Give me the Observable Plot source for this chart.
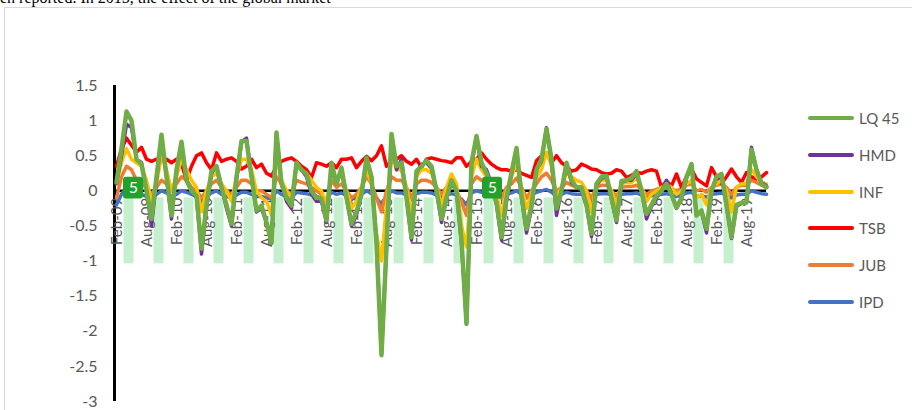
<!DOCTYPE html>
<html><head><meta charset="utf-8">
<script src="https://cdn.jsdelivr.net/npm/d3@7"></script>
<script src="https://cdn.jsdelivr.net/npm/@observablehq/plot@0.6"></script>
<style>
html,body{margin:0;padding:0;background:#fff;}
#wrap{position:relative;width:912px;height:410px;overflow:hidden;font-family:Lato,sans-serif;}
#topText{position:absolute;left:0;top:-10px;font-family:"Liberation Serif",serif;font-size:16px;line-height:16px;white-space:nowrap;color:#000;}
#frame{position:absolute;left:4px;top:7px;width:940px;height:440px;border:1px solid #d9d9d9;box-sizing:border-box;}
#chart{position:absolute;left:0;top:0;}
#legend{position:absolute;left:0;top:0;}
.li{position:absolute;left:808px;height:18px;display:flex;align-items:center;font-family:Lato,sans-serif;font-size:15px;color:#595959;white-space:nowrap;}
.li span.sw{display:inline-block;width:46px;height:4px;border-radius:2px;margin-right:5px;flex:none;}
</style>
</head><body>
<div id="wrap">
  <div id="topText"></div>
  <div id="frame"></div>
  <div id="chart"></div>
  <div id="legend"></div>
</div>
<script>
const headerText = "en reported. In 2015, the effect of the global market";
const seriesNames = ["LQ 45", "HMD", "INF", "TSB", "JUB", "IPD"];
const seriesColors = ["#70AD47", "#7030A0", "#FFC000", "#FF0000", "#ED7D31", "#4472C4"];
const tickLabels = ["Feb-09","Aug-09","Feb-10","Aug-10","Feb-11","Aug-11","Feb-12","Aug-12","Feb-13","Aug-13","Feb-14","Aug-14","Feb-15","Aug-15","Feb-16","Aug-16","Feb-17","Aug-17","Feb-18","Aug-18","Feb-19","Aug-19"];
const yTicks = [1.5, 1, 0.5, 0, -0.5, -1, -1.5, -2, -2.5, -3];

const LQ45 = [
 0.12, 0.6, 1.13, 1.0, 0.45, 0.38, 0.0, -0.4, 0.2, 0.8,
 0.2, -0.35, 0.3, 0.7, 0.15, 0.0, -0.07, -0.82, -0.2, 0.28,
 0.35, 0.05, -0.2, -0.47, 0.2, 0.71, 0.71, 0.2, -0.28, -0.21,
 -0.45, -0.74, 0.83, 0.1, -0.1, -0.21, 0.4, 0.3, 0.24, 0.0,
 -0.1, -0.11, -0.42, 0.4, 0.1, 0.33, -0.1, -0.47, -0.3, -0.05,
 0.47, 0.2, -0.75, -2.34, -0.8, 0.81, 0.35, 0.4, -0.1, -0.66,
 0.28, 0.35, 0.43, 0.35, 0.0, -0.4, -0.1, 0.15, 0.0, -0.7,
 -1.89, 0.4, 0.78, 0.4, 0.25, 0.05, -0.17, -0.66, -0.1, 0.26,
 0.61, -0.07, -0.54, -0.2, 0.3, 0.45, 0.88, 0.45, -0.25, 0.0,
 0.4, 0.15, 0.05, 0.05, -0.2, -0.61, 0.1, 0.2, 0.21, -0.1,
 -0.42, 0.14, 0.15, 0.18, 0.28, 0.0, -0.33, -0.2, -0.07, 0.0,
 0.1, -0.05, -0.24, -0.1, 0.2, 0.38, -0.35, -0.28, -0.54, 0.0,
 0.2, 0.24, -0.2, -0.66, -0.2, -0.17, -0.17, 0.59, 0.3, 0.1,
 0.05];
const HMD = [
 0.1, 0.5, 0.95, 0.9, 0.45, 0.4, 0.0, -0.5, 0.15, 0.75,
 0.2, -0.4, 0.3, 0.65, 0.15, 0.0, -0.1, -0.9, -0.25, 0.25,
 0.35, 0.05, -0.25, -0.5, 0.15, 0.7, 0.75, 0.2, -0.3, -0.25,
 -0.45, -0.75, 0.8, 0.1, -0.15, -0.25, 0.4, 0.3, 0.2, -0.05,
 -0.15, -0.15, -0.45, 0.35, 0.1, 0.3, -0.1, -0.5, -0.35, -0.05,
 0.45, 0.2, -0.75, -2.3, -0.8, 0.75, 0.3, 0.45, -0.1, -0.7,
 0.25, 0.38, 0.4, 0.32, 0.0, -0.45, -0.1, 0.12, 0.0, -0.75,
 -1.9, 0.38, 0.75, 0.35, 0.3, 0.1, -0.2, -0.7, -0.15, 0.25,
 0.58, -0.1, -0.6, -0.25, 0.3, 0.42, 0.9, 0.42, -0.35, 0.0,
 0.38, 0.12, 0.05, 0.0, -0.22, -0.65, 0.08, 0.18, 0.2, -0.12,
 -0.45, 0.12, 0.15, 0.15, 0.25, 0.0, -0.4, -0.22, -0.1, 0.0,
 0.15, -0.05, -0.25, -0.12, 0.18, 0.38, -0.35, -0.3, -0.6, 0.0,
 0.18, 0.22, -0.22, -0.68, -0.22, -0.18, -0.15, 0.62, 0.3, 0.12,
 0.07];
const INF = [
 0.1, 0.4, 0.6, 0.45, 0.4, 0.35, 0.15, -0.15, 0.1, 0.5,
 0.3, 0.0, 0.2, 0.45, 0.3, 0.15, 0.05, -0.3, 0.0, 0.2,
 0.25, 0.1, 0.0, -0.15, 0.2, 0.45, 0.45, 0.3, 0.0, -0.1,
 -0.15, -0.35, 0.5, 0.15, 0.0, -0.1, 0.35, 0.3, 0.25, 0.15,
 0.05, 0.0, -0.2, 0.25, 0.15, 0.25, 0.0, -0.25, -0.15, 0.05,
 0.3, 0.1, -0.6, -1.0, -0.2, 0.5, 0.3, 0.3, 0.05, -0.35,
 0.2, 0.3, 0.3, 0.25, 0.05, -0.2, 0.05, 0.24, 0.1, -0.5,
 -0.8, 0.2, 0.45, 0.3, 0.2, 0.1, -0.05, -0.35, 0.0, 0.2,
 0.4, 0.05, -0.25, -0.05, 0.2, 0.3, 0.55, 0.35, -0.1, 0.05,
 0.25, 0.2, 0.15, 0.12, 0.0, -0.3, 0.1, 0.15, 0.15, 0.0,
 -0.2, 0.1, 0.12, 0.12, 0.18, 0.05, -0.15, -0.05, 0.0, 0.05,
 0.1, 0.05, -0.05, 0.0, 0.1, 0.15, -0.1, -0.05, -0.2, 0.05,
 0.1, 0.15, 0.0, -0.3, 0.05, 0.1, 0.1, 0.3, 0.2, 0.12,
 0.1];
const TSB = [
 0.35, 0.6, 0.75, 0.65, 0.55, 0.62, 0.45, 0.42, 0.45, 0.43,
 0.45, 0.4, 0.45, 0.38, 0.15, 0.35, 0.5, 0.54, 0.4, 0.3,
 0.54, 0.42, 0.45, 0.47, 0.42, 0.31, 0.35, 0.45, 0.33, 0.38,
 0.25, 0.21, 0.35, 0.42, 0.45, 0.47, 0.42, 0.35, 0.3, 0.19,
 0.4, 0.38, 0.35, 0.4, 0.33, 0.45, 0.45, 0.47, 0.33, 0.42,
 0.49, 0.43, 0.5, 0.64, 0.35, 0.42, 0.45, 0.5, 0.42, 0.38,
 0.45, 0.33, 0.45, 0.47, 0.45, 0.43, 0.42, 0.4, 0.47, 0.47,
 0.35, 0.42, 0.45, 0.54, 0.45, 0.38, 0.33, 0.3, 0.3, 0.28,
 0.3, 0.25, 0.22, 0.19, 0.43, 0.5, 0.54, 0.4, 0.5, 0.4,
 0.35, 0.28, 0.3, 0.38, 0.35, 0.31, 0.3, 0.26, 0.24, 0.25,
 0.3, 0.28, 0.19, 0.22, 0.26, 0.25, 0.28, 0.3, 0.28, 0.05,
 0.14, 0.07, 0.24, 0.05, 0.2, 0.31, 0.17, 0.12, 0.07, 0.33,
 0.2, 0.1, 0.2, 0.31, 0.2, 0.12, 0.26, 0.2, 0.17, 0.2,
 0.26];
const JUB = [
 -0.1, 0.2, 0.35, 0.3, 0.15, 0.1, 0.05, -0.05, 0.05, 0.15,
 0.1, 0.0, 0.1, 0.2, 0.15, 0.05, 0.0, -0.1, 0.0, 0.1,
 0.15, 0.05, 0.0, -0.05, 0.05, 0.15, 0.15, 0.1, 0.0, 0.0,
 -0.05, -0.1, 0.2, 0.1, 0.0, -0.05, 0.15, 0.12, 0.1, 0.05,
 0.0, -0.05, -0.15, 0.15, 0.05, 0.1, 0.0, -0.1, -0.05, 0.05,
 0.2, 0.1, -0.1, -0.3, 0.0, 0.2, 0.15, 0.15, 0.05, -0.1,
 0.1, 0.15, 0.15, 0.12, 0.05, -0.05, 0.05, 0.1, 0.0, -0.15,
 -0.35, 0.1, 0.2, 0.15, 0.12, 0.08, 0.0, -0.1, 0.05, 0.1,
 0.18, 0.05, -0.1, 0.0, 0.1, 0.2, 0.25, 0.15, 0.0, 0.05,
 0.12, 0.08, 0.05, 0.05, 0.0, -0.1, 0.05, 0.08, 0.08, 0.0,
 -0.08, 0.05, 0.06, 0.06, 0.08, 0.02, -0.05, 0.0, 0.02, 0.05,
 0.06, 0.03, 0.0, 0.03, 0.08, 0.1, 0.0, 0.02, -0.02, 0.05,
 0.08, 0.1, 0.05, -0.05, 0.05, 0.08, 0.08, 0.15, 0.12, 0.08,
 0.06];
const IPD = [
 -0.2, -0.05, 0.05, 0.0, -0.05, -0.05, -0.08, -0.1, -0.05, 0.0,
 -0.03, -0.08, -0.05, 0.0, -0.02, -0.05, -0.08, -0.12, -0.08, -0.03,
 0.0, -0.05, -0.08, -0.1, -0.06, -0.02, -0.02, -0.05, -0.08, -0.08,
 -0.1, -0.12, 0.0, -0.05, -0.08, -0.1, -0.02, -0.03, -0.04, -0.06,
 -0.08, -0.1, -0.12, -0.02, -0.05, -0.03, -0.07, -0.1, -0.09, -0.05,
 0.0, -0.04, -0.1, -0.2, -0.08, 0.0, -0.03, -0.03, -0.06, -0.1,
 -0.04, -0.02, -0.02, -0.03, -0.06, -0.1, -0.06, -0.04, -0.06, -0.12,
 -0.2, -0.03, 0.0, -0.02, -0.03, -0.05, -0.07, -0.1, -0.05, -0.03,
 0.0, -0.05, -0.1, -0.06, -0.02, 0.0, 0.02, -0.02, -0.08, -0.05,
 -0.02, -0.04, -0.05, -0.05, -0.06, -0.1, -0.05, -0.04, -0.04, -0.06,
 -0.1, -0.05, -0.04, -0.04, -0.03, -0.06, -0.1, -0.07, -0.06, -0.05,
 -0.04, -0.06, -0.08, -0.06, -0.03, -0.02, -0.08, -0.07, -0.09, -0.05,
 -0.04, -0.03, -0.06, -0.1, -0.06, -0.05, -0.05, 0.0, -0.02, -0.04,
 -0.05];

// annotation badges (month index, value, text)
const badgeMonth = [3.4, 75.2];
const badgeValue = [0.04, 0.04];
const badgeText = ["5", "5"];

const seriesValues = [LQ45, HMD, INF, TSB, JUB, IPD];
const seriesWidth = [4.5, 3.5, 3.5, 3.5, 3.5, 3.5];

// long table
const rows = [];
seriesNames.forEach((name, s) => seriesValues[s].forEach((v, i) => rows.push({name, i, v})));
const tickIdx = tickLabels.map((_, k) => k * 6);
const bands = tickIdx.slice(0, 21).map(t => ({a: t + 1.5, b: t + 3.5}));
const badges = badgeMonth.map((m, k) => ({i: m, v: badgeValue[k], t: badgeText[k]}));

document.getElementById("topText").textContent = headerText;

const drawOrder = [5, 4, 3, 2, 1, 0];
const lineMarks = drawOrder.map(s => Plot.line(rows.filter(r => r.name === seriesNames[s]), {
  x: "i", y: "v", stroke: seriesColors[s], strokeWidth: seriesWidth[s], strokeLinejoin: "round", strokeLinecap: "round"
}));

const chart = Plot.plot({
  width: 912, height: 410,
  marginLeft: 116, marginRight: 146, marginTop: 85, marginBottom: 9,
  style: {background: "transparent", fontFamily: "Lato, sans-serif", overflow: "visible"},
  x: {domain: [0, 130], axis: null},
  y: {domain: [-3, 1.5], axis: null},
  marks: [
    Plot.rect(bands, {x1: "a", x2: "b", y1: -0.1, y2: -1.04, fill: "#C6EFCE"}),
    Plot.ruleY([0], {stroke: "#000", strokeWidth: 2.5}),
    Plot.ruleX([0], {dx: -2, y1: -3, y2: 1.5, stroke: "#000", strokeWidth: 3}),
    Plot.text(tickIdx, {x: d => d, y: 0, text: (d, k) => tickLabels[k], rotate: -90, textAnchor: "end", dy: 7, dx: 1, fontSize: 15, fill: "#595959"}),
    ...lineMarks,
    Plot.rect(badges, {x1: d => d.i - 2, x2: d => d.i + 2, y1: d => d.v - 0.155, y2: d => d.v + 0.155, fill: "#22a22a", rx: 3}),
    Plot.text(badges, {x: "i", y: "v", text: "t", fill: "#fff", fontSize: 16}),
    Plot.axisY({ticks: yTicks, tickSize: 0, tickPadding: 19, tickFormat: d => String(d), fontSize: 16, fill: "#595959", anchor: "left", label: null})
  ]
});
document.getElementById("chart").appendChild(chart);

const legendY = [118, 155, 191.5, 228, 265, 301.5];
const lg = document.getElementById("legend");
seriesNames.forEach((n, s) => {
  const d = document.createElement("div");
  d.className = "li";
  d.style.top = (legendY[s] - 9) + "px";
  d.innerHTML = `<span class="sw" style="background:${seriesColors[s]}"></span>${n}`;
  lg.appendChild(d);
});
</script>
</body></html>
